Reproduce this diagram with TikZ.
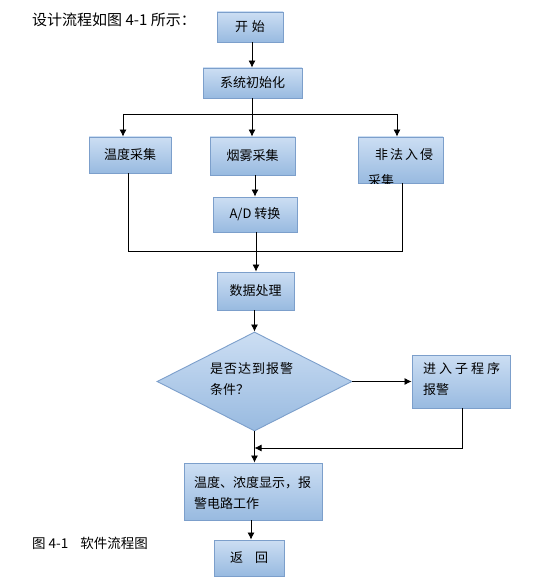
\documentclass[tikz,border=0pt]{standalone}
\usepackage{fontspec}
\setmainfont{Noto Sans CJK SC}
\usetikzlibrary{shapes.geometric,arrows.meta}
\definecolor{boxtop}{HTML}{CCDEF3}
\definecolor{boxbot}{HTML}{98BAE0}
\definecolor{boxedge}{HTML}{7C9FCB}
\begin{document}
\begin{tikzpicture}[x=1pt,y=-1pt,
  box/.style={draw=boxedge, top color=boxtop, bottom color=boxbot, line width=0.9pt,
    inner sep=0pt, font=\fontsize{13}{17}\selectfont},
  arr/.style={-{Latex[length=7pt,width=7pt]}, line width=0.8pt},
  ln/.style={line width=0.8pt},
  txt/.style={inner sep=0pt, font=\fontsize{13}{21}\selectfont, align=left}]
\useasboundingbox (0,0) rectangle (550,585);
% title and caption
\node[anchor=west, inner sep=0pt, font=\fontsize{15}{17}\selectfont] (title) at (32,20) {设计流程如图 4-1 所示：};
\node[anchor=west, inner sep=0pt, font=\fontsize{13.5}{16}\selectfont] (cap) at (32,543) {图 4-1\hspace{12pt}软件流程图};
% boxes
\node[box, minimum width=66pt, minimum height=30pt] (start) at (250,27) {开\hspace{4pt}始};
\node[box, minimum width=99pt, minimum height=30pt] (init) at (252.5,83) {系统初始化};
\node[box, minimum width=82pt, minimum height=36pt] (temp) at (130,155) {温度采集};
\node[box, minimum width=85pt, minimum height=38pt] (smoke) at (252.5,156) {烟雾采集};
\node[box, minimum width=85pt, minimum height=46pt] (intr) at (400.5,160) {};
\node[txt, anchor=west] (intrt) at (375,155) {非\hspace{2pt}法\hspace{2pt}入\hspace{2pt}侵};
\begin{scope}
  \clip (intr.south west) rectangle (intr.north east);
  \node[txt, anchor=west] (intrt2) at (368,181) {采集};
\end{scope}
\node[box, minimum width=84pt, minimum height=35pt] (ad) at (255,214.5) {A/D 转换};
\node[box, minimum width=77pt, minimum height=38pt] (proc) at (255.5,291) {数据处理};
\node[diamond, draw=boxedge, top color=boxtop, bottom color=boxbot, line width=0.9pt,
  minimum width=195pt, minimum height=99pt, inner sep=0pt, aspect=2] (dec) at (254.5,381.5) {};
\node[txt, anchor=north west] (dect) at (210,362) {是\hspace{1pt}否\hspace{1pt}达\hspace{1pt}到\hspace{1pt}报\hspace{1pt}警\\条件？};
\node[box, minimum width=98pt, minimum height=53pt] (sub) at (461,381.5) {};
\node[txt, anchor=north west] (subt) at (423,362) {进\hspace{3pt}入\hspace{3pt}子\hspace{3pt}程\hspace{3pt}序\\报警};
\node[box, minimum width=138pt, minimum height=57pt] (disp) at (253,491.5) {};
\node[txt, anchor=north west] (dispt) at (194,476) {温度、浓度显示，报\\警电路工作};
\node[box, minimum width=70pt, minimum height=36pt] (ret) at (249,558) {返\hspace{12pt}回};
% connectors
\draw[arr] (start.south -| 252,0) -- (init.north -| 252,0);
\coordinate (b0) at (252,114);
\coordinate (b1) at (123,114);
\coordinate (b2) at (397,114);
\draw[ln] (init.south -| b0) -- (b0);
\draw[ln] (b1) -- (b2);
\draw[arr] (b1) -- (b1 |- temp.north);
\draw[arr] (b0) -- (b0 |- smoke.north);
\draw[arr] (b2) -- (b2 |- intr.north);
\draw[arr] (smoke.south -| 255,0) -- (ad.north -| 255,0);
\coordinate (m1) at (128,251);
\coordinate (m2) at (402,251);
\draw[ln] (temp.south -| m1) -- (m1) -- (m2) -- (intr.south -| m2);
\draw[arr] (ad.south -| 256,0) -- (proc.north -| 256,0);
\draw[arr] (proc.south -| dec.north) -- (dec.north);
\draw[arr] (dec.east) -- (sub.west |- dec.east);
\coordinate (j1) at (462,448);
\coordinate (j0) at (254.5,448);
\draw[arr] (sub.south -| j1) -- (j1) -- (j0);
\draw[arr] (dec.south) -- (disp.north -| dec.south);
\draw[arr] (disp.south -| 251,0) -- (ret.north -| 251,0);
\end{tikzpicture}
\end{document}
